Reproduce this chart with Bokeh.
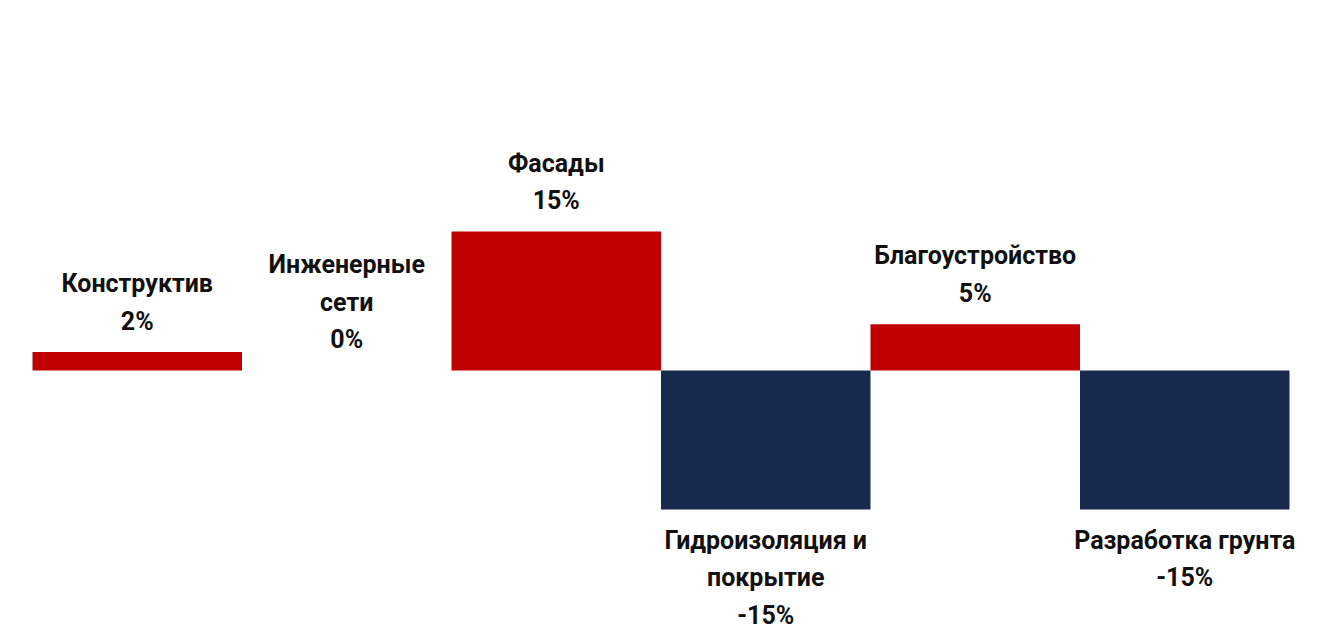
from bokeh.plotting import figure
from bokeh.models import ColumnDataSource, Range1d
from bokeh.core.properties import value
from bokeh.embed import file_html
from bokeh.resources import INLINE

categories = ["Конструктив", "Инженерные\nсети", "Фасады", "Гидроизоляция и\nпокрытие", "Благоустройство", "Разработка грунта"]
values = [2, 0, 15, -15, 5, -15]

POS = "#C00000"
NEG = "#172A4D"

xs = [i + 0.5 for i in range(len(values))]
colors = [POS if v >= 0 else NEG for v in values]
labels = [f"{c}\n{v}%" for c, v in zip(categories, values)]

W, H = 1321, 634
cat_w = 209.5
left_px = 32
zero_px = 370
px_per_unit = 9.27

p = figure(width=W, height=H, output_backend="svg", toolbar_location=None,
           min_border=0, min_border_left=0, min_border_right=0,
           min_border_top=0, min_border_bottom=0)
p.x_range = Range1d(-left_px / cat_w, (W - left_px) / cat_w)
p.y_range = Range1d(-(H - zero_px) / px_per_unit, zero_px / px_per_unit)
p.axis.visible = False
p.grid.visible = False
p.outline_line_color = None
p.background_fill_color = "white"
p.border_fill_color = "white"

src = ColumnDataSource(dict(x=xs, top=values, color=colors))
p.vbar(x="x", top="top", bottom=0, width=1.0, fill_color="color", line_color=None, source=src)

pos_src = ColumnDataSource(dict(x=[x for x, v in zip(xs, values) if v >= 0],
                                y=[v for v in values if v >= 0],
                                t=[l for l, v in zip(labels, values) if v >= 0]))
neg_src = ColumnDataSource(dict(x=[x for x, v in zip(xs, values) if v < 0],
                                y=[v for v in values if v < 0],
                                t=[l for l, v in zip(labels, values) if v < 0]))

common = dict(text_font=value("Roboto"), text_font_style="bold", text_font_size="25px",
              text_color="#111111", text_align="center", text_line_height=1.3)
p.text(x="x", y="y", text="t", source=pos_src, text_baseline="bottom", y_offset=-16, **common)
p.text(x="x", y="y", text="t", source=neg_src, text_baseline="top", y_offset=16, **common)

open("out.html", "w").write(file_html(p, INLINE))
